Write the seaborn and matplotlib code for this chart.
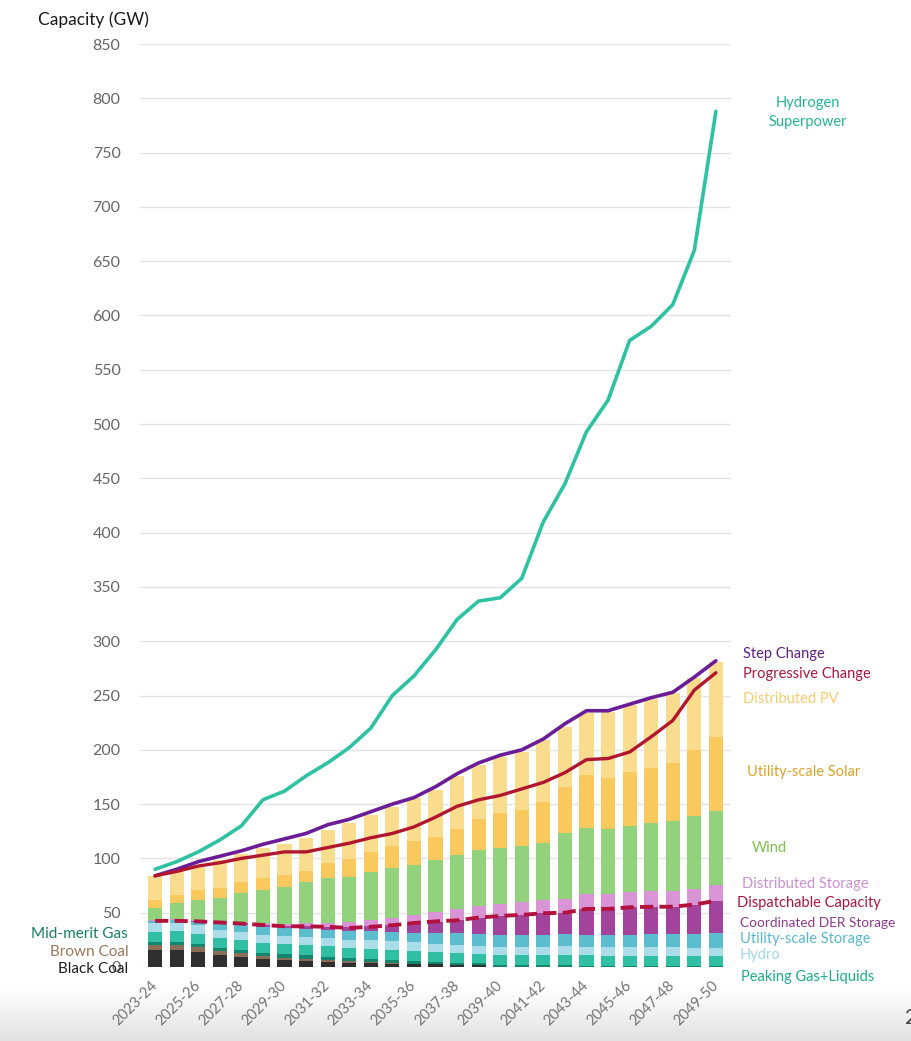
import numpy as np
import matplotlib
matplotlib.use("Agg")
import matplotlib.pyplot as plt
from matplotlib.colors import LinearSegmentedColormap
import seaborn as sns

# ---------------- data ----------------
years = ["2023-24", "2024-25", "2025-26", "2026-27", "2027-28", "2028-29", "2029-30",
         "2030-31", "2031-32", "2032-33", "2033-34", "2034-35", "2035-36", "2036-37",
         "2037-38", "2038-39", "2039-40", "2040-41", "2041-42", "2042-43", "2043-44",
         "2044-45", "2045-46", "2046-47", "2047-48", "2048-49", "2049-50"]

black_coal = [15.7, 15.7, 14.0, 11.5, 9.5, 7.5, 6.5, 5.5, 5.0, 4.0, 3.5, 3.0, 3.0, 2.5,
              2.0, 1.5, 0, 0, 0, 0, 0, 0, 0, 0, 0, 0, 0]
brown_coal = [4.6, 4.6, 4.6, 3.3, 3.3, 2.2, 2.2, 2.2, 1.5, 1.5, 1.5, 1.0, 0, 0,
              0, 0, 0, 0, 0, 0, 0, 0, 0, 0, 0, 0, 0]
mid_merit_gas = [3.0, 3.0, 3.0, 3.0, 3.0, 3.0, 3.0, 3.0, 3.0, 2.5, 2.5, 2.5, 2.5, 2.0,
                 2.0, 2.0, 1.5, 1.5, 1.5, 1.5, 1.0, 1.0, 1.0, 1.0, 1.0, 1.0, 1.0]
peaking_gas = [9.2, 9.5, 9.0, 9.0, 9.3, 9.3, 9.5, 9.5, 9.5, 9.5, 9.5, 9.5, 9.5, 9.0,
               8.5, 8.5, 9.5, 9.5, 9.5, 10.0, 10.0, 9.5, 9.5, 9.5, 9.5, 9.0, 9.0]
hydro = [7.7, 7.7, 7.7, 7.5, 7.5, 7.7, 7.7, 7.7, 7.7, 7.7, 7.7, 7.7, 7.7, 7.7,
         7.7, 7.7, 7.7, 7.7, 7.7, 7.7, 7.7, 7.7, 7.7, 7.5, 7.5, 7.5, 7.5]
utility_storage = [2.0, 2.5, 3.5, 6.0, 6.5, 7.0, 7.0, 7.5, 7.5, 7.5, 8.0, 8.5, 9.0, 10.0,
                   10.8, 10.8, 10.8, 10.8, 10.8, 10.8, 10.8, 11.0, 11.5, 12.0, 12.5, 13.0, 14.0]
coord_der_storage = [0.3, 0.4, 0.6, 0.9, 1.2, 2.0, 2.0, 2.5, 3.0, 4.0, 5.0, 6.5, 8.5, 10.5,
                     12.0, 15.0, 17.5, 18.5, 20.0, 20.0, 24.0, 24.3, 25.3, 25.5, 25.0, 27.0, 29.5]
distributed_storage = [0.5, 0.6, 0.8, 1.0, 1.2, 1.5, 2.0, 2.5, 3.5, 4.5, 5.5, 6.5, 7.5, 8.5,
                       10.0, 10.5, 11.0, 11.5, 12.0, 13.0, 14.0, 14.0, 14.5, 14.5, 14.5, 14.5, 14.5]
wind = [11, 15, 18.5, 21, 26.5, 31, 34, 38, 41.5, 42, 44.5, 46, 46, 48,
        50, 52, 52, 51.5, 53, 60, 60.5, 59.5, 60.5, 62.5, 64.5, 67, 68.5]
utility_solar = [8, 7, 9.3, 9.7, 10.6, 11, 10.7, 10.4, 14, 16, 18, 20, 22.6, 21.5,
                 24, 28, 32, 33.6, 37.5, 43, 49, 47, 50, 50.5, 53.5, 61, 68]
distributed_pv = [22, 23, 23, 26, 25.5, 27, 29, 30, 30, 33, 34, 36, 39, 43,
                  49, 50, 51, 53.5, 57, 55, 57, 61, 61, 64, 64, 66, 69]

hydrogen_superpower = [90, 97, 106, 117, 130, 154, 162, 176, 188, 202, 220, 250, 268, 292,
                       320, 337, 340, 358, 410, 445, 493, 522, 577, 590, 610, 660, 788]
step_change = [84, 90, 97, 102, 107, 113, 118, 123, 131, 136, 143, 150, 156, 166,
               178, 188, 195, 200, 210, 224, 236, 236, 242, 248, 253, 267, 282]
progressive_change = [84, 88, 93, 96, 100, 103, 106, 106, 110, 114, 119, 123, 129, 138,
                      148, 154, 158, 164, 170, 179, 191, 192, 198, 212, 227, 255, 271]
dispatchable_capacity = [42.5, 42.5, 42, 41, 40, 38.7, 37.5, 37.5, 37, 36, 37, 38.5, 40.5, 42,
                         43, 45.5, 47, 48, 49.5, 50, 53.5, 53.5, 55, 55.5, 55.5, 57.5, 61]

yticks = list(range(0, 851, 50))

# ---------------- style ----------------
sns.set_theme(style="white")
plt.rcParams["font.family"] = ["Lato", "DejaVu Sans"]

layers = [
    ("Black Coal", black_coal, "#2f2f2f"),
    ("Brown Coal", brown_coal, "#8c6e58"),
    ("Mid-merit Gas", mid_merit_gas, "#13876e"),
    ("Peaking Gas+Liquids", peaking_gas, "#30bfa3"),
    ("Hydro", hydro, "#aadcea"),
    ("Utility-scale Storage", utility_storage, "#5cbdcf"),
    ("Coordinated DER Storage", coord_der_storage, "#a3449c"),
    ("Distributed Storage", distributed_storage, "#d994d6"),
    ("Wind", wind, "#93d27c"),
    ("Utility-scale Solar", utility_solar, "#f9c95e"),
    ("Distributed PV", distributed_pv, "#f9dc8e"),
]

fig = plt.figure(figsize=(9.12, 10.41), dpi=100)

# light grey band at the bottom of the page
bg = fig.add_axes([0, 0, 1, 0.05], zorder=-1)
grad = np.linspace(0, 1, 60)[:, None]
bg.imshow(grad, aspect="auto", cmap=LinearSegmentedColormap.from_list("g", ["#ffffff", "#e2e2e2"]))
bg.axis("off")

ax = fig.add_axes([140 / 912, 74 / 1041, 591 / 912, 923 / 1041])
ax.patch.set_alpha(0)

# stacked bars: draw cumulative heights from the top layer down
cum = np.zeros(len(years))
tops = []
for name, vals, color in layers:
    cum = cum + np.array(vals, dtype=float)
    tops.append((name, cum.copy(), color))
for name, top, color in reversed(tops):
    sns.barplot(x=years, y=top, color=color, saturation=1, width=0.66,
                errorbar=None, linewidth=0, ax=ax, zorder=2)

# lines
sns.lineplot(x=years, y=hydrogen_superpower, color="#2ec2a2", linewidth=2.6,
             errorbar=None, ax=ax, zorder=4)
sns.lineplot(x=years, y=step_change, color="#6b1d98", linewidth=2.6,
             errorbar=None, ax=ax, zorder=5)
sns.lineplot(x=years, y=progressive_change, color="#b1162f", linewidth=2.4,
             errorbar=None, ax=ax, zorder=5)
sns.lineplot(x=years, y=dispatchable_capacity, color="#b3123e", linewidth=2.8,
             linestyle=(0, (3.4, 1.6)), errorbar=None, ax=ax, zorder=5)

ax.set_ylim(0, 850)
ax.set_xlim(-0.7, 26.7)
ax.set_yticks(yticks)
ax.set_yticklabels([str(v) for v in yticks])
ax.set_xticks(range(0, len(years), 2))
ax.set_xticklabels(years[::2], rotation=45, ha="right", va="center",
                   rotation_mode="anchor")
ax.tick_params(axis="y", length=0, pad=14, labelsize=11.5, labelcolor="#666666")
ax.tick_params(axis="x", length=0, pad=12, labelsize=10.5, labelcolor="#737373")
ax.yaxis.grid(True, color="#e4e4e4", linewidth=1)
ax.xaxis.grid(False)
ax.set_axisbelow(True)
ax.set_xlabel("")
ax.set_ylabel("")
sns.despine(ax=ax, left=True, bottom=True)

fig.text(38 / 912, 1 - 20 / 1041, "Capacity (GW)", fontsize=12.5, color="#1a1a1a",
         ha="left", va="center")

# right-hand series labels
ax.text(30.25, 787, "Hydrogen\nSuperpower", color="#27b496", fontsize=10.5,
        ha="center", va="center", linespacing=1.4, clip_on=False)
right_labels = [
    (27.25, 288, "Step Change", "#5e2180", 10.5),
    (27.25, 270, "Progressive Change", "#a8173c", 10.5),
    (27.25, 247, "Distributed PV", "#f4cb74", 10.5),
    (27.45, 180, "Utility-scale Solar", "#d6a42c", 10.5),
    (27.65, 110, "Wind", "#7fbe4e", 10.5),
    (27.2, 76, "Distributed Storage", "#c990d2", 10.5),
    (27.0, 59, "Dispatchable Capacity", "#a8173c", 10.5),
    (27.1, 40.5, "Coordinated DER Storage", "#8c3a8c", 9.8),
    (27.1, 26, "Utility-scale Storage", "#5ab7cb", 10.5),
    (27.1, 11, "Hydro", "#a3d6e4", 10.5),
    (27.15, -9, "Peaking Gas+Liquids", "#1fab8c", 10.5),
]
for x, y, txt, col, fs in right_labels:
    ax.text(x, y, txt, color=col, fontsize=fs, ha="left", va="center", clip_on=False)

# left-hand labels
left_labels = [
    (30.5, "Mid-merit Gas", "#167e69"),
    (14, "Brown Coal", "#9a7859"),
    (-1.5, "Black Coal", "#1e1e1e"),
]
for y, txt, col in left_labels:
    ax.text(-1.25, y, txt, color=col, fontsize=11, ha="right", va="center", clip_on=False)

fig.text(0.992, 0.022, "2", fontsize=15, color="#444444", ha="left", va="center")

fig.savefig("out.png", dpi=100)
